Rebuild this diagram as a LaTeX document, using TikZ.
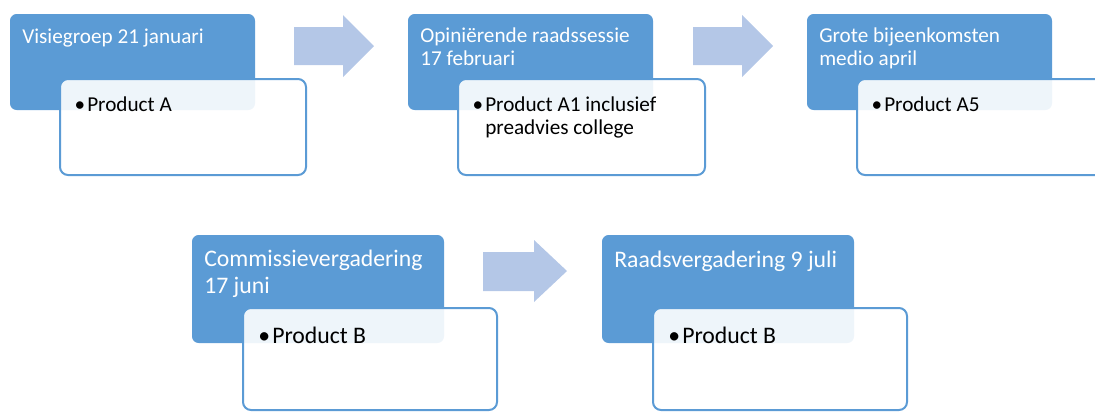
\documentclass[tikz,border=0pt]{standalone}
\usepackage{fontspec}
\setmainfont{Carlito}
\definecolor{accentblue}{RGB}{91,155,213}
\definecolor{arrowblue}{RGB}{180,199,231}
\tikzset{
  stagebox/.style={fill=accentblue, rounded corners=5pt},
  detailbox/.style={draw=accentblue, line width=1.5pt, fill=white, fill opacity=0.9, rounded corners=6pt},
  flowarrow/.style={fill=arrowblue},
  stagetext/.style={anchor=base west, inner sep=0pt, text=white, align=left},
  itemtext/.style={anchor=base west, inner sep=0pt, text=black, align=left},
  rowone/.style={font=\fontsize{15.9}{16.8}\selectfont},
  rowtwo/.style={font=\fontsize{17.8}{19.6}\selectfont}
}
\newcommand{\itembullet}{\llap{\textbullet\hspace{1.5pt}}}
\begin{document}
\begin{tikzpicture}[x=0.75pt,y=-0.75pt]
\useasboundingbox (0,0) rectangle (1095,412);
\fill [stagebox] (10,14) rectangle (255,110); \draw [detailbox] (60,79) rectangle (306,175);
\node [stagetext,rowone] (visie) at (22,43) {Visiegroep 21 januari};
\node [itemtext,rowone] (productA) at (87,111) {\itembullet Product A};
\fill [flowarrow] (294,27) -- (343,27) -- (343,15) -- (374,46) -- (343,77) -- (343,65) -- (294,65) -- cycle;
\fill [stagebox] (408,14) rectangle (653,110); \draw [detailbox] (458,79) rectangle (705,175);
\node [stagetext,rowone] (opinie) at (420,65) {Opiniërende raadssessie\\17 februari};
\node [itemtext,rowone] (productAone) at (485,134) {\itembullet Product A1 inclusief\\preadvies college};
\fill [flowarrow] (693,27) -- (742,27) -- (742,15) -- (773,46) -- (742,77) -- (742,65) -- (693,65) -- cycle;
\fill [stagebox] (807,14) rectangle (1052,110); \draw [detailbox] (857,79) rectangle (1110,175);
\node [stagetext,rowone] (bijeen) at (819,65) {Grote bijeenkomsten\\medio april};
\node [itemtext,rowone] (productAfive) at (884,111) {\itembullet Product A5};
\fill [stagebox] (192,235) rectangle (444,343); \draw [detailbox] (243,308) rectangle (497,410);
\node [stagetext,rowtwo] (commissie) at (204,293) {Commissievergadering\\17 juni};
\node [itemtext,rowtwo] (productB) at (272,343) {\itembullet Product B};
\fill [flowarrow] (483,252) -- (534,252) -- (534,240) -- (567,271) -- (534,302) -- (534,291) -- (483,291) -- cycle;
\fill [stagebox] (602,235) rectangle (854,343); \draw [detailbox] (653,308) rectangle (907,410);
\node [stagetext,rowtwo] (raad) at (614,267) {Raadsvergadering 9 juli};
\node [itemtext,rowtwo] (productBraad) at (682,343) {\itembullet Product B};
\end{tikzpicture}
\end{document}
